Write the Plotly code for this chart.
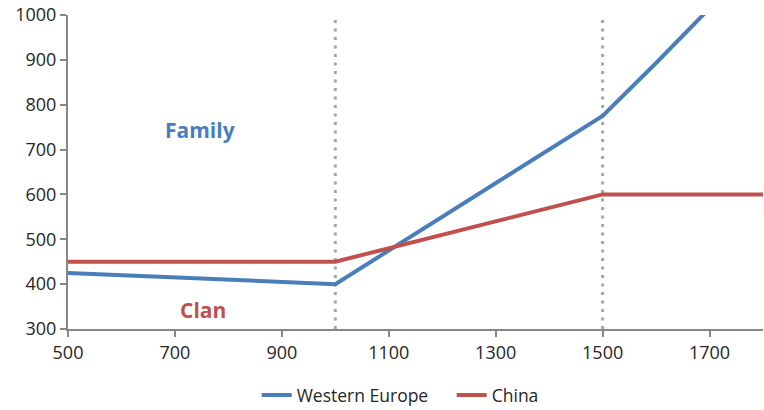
import plotly.graph_objects as go

# Year axis and series values
we_years = [500, 1000, 1500, 1600, 1700]
we_values = [425, 400, 775, 893, 1015]

china_years = [500, 1000, 1500, 1800]
china_values = [450, 450, 600, 600]

divider_years = [1000, 1500]

x_ticks = [500, 700, 900, 1100, 1300, 1500, 1700]
y_ticks = [300, 400, 500, 600, 700, 800, 900, 1000]

BLUE = "#4A7EBB"
RED = "#C0504D"
AXIS = "#878787"
TEXT = "#262626"

fig = go.Figure()

fig.add_trace(go.Scatter(
    x=we_years, y=we_values, mode="lines", name="Western Europe",
    line=dict(color=BLUE, width=4),
))
fig.add_trace(go.Scatter(
    x=china_years, y=china_values, mode="lines", name="China",
    line=dict(color=RED, width=4),
))

for yr in divider_years:
    fig.add_shape(
        type="line", xref="x", yref="y",
        x0=yr, x1=yr, y0=300, y1=1000,
        line=dict(color="#A6A6A6", width=3, dash="3px,5.5px"),
        layer="below",
    )

fig.add_annotation(x=747, y=744, text="<b>Family</b>", showarrow=False,
                   font=dict(color=BLUE, size=21, family="Open Sans"))
fig.add_annotation(x=753, y=343, text="<b>Clan</b>", showarrow=False,
                   font=dict(color=RED, size=21, family="Open Sans"))

fig.update_layout(
    width=764, height=410,
    margin=dict(l=68, r=1, t=15, b=81, autoexpand=False),
    paper_bgcolor="white", plot_bgcolor="white",
    font=dict(family="Open Sans", size=18, color=TEXT),
    showlegend=True,
    legend=dict(orientation="h", xref="container", x=0.336, xanchor="left",
                yref="paper", y=-0.153, yanchor="top",
                entrywidth=150, itemwidth=30,
                font=dict(size=17.5, color=TEXT)),
)

fig.update_xaxes(
    range=[500, 1800], tickvals=x_ticks, showgrid=False, zeroline=False,
    showline=True, linecolor=AXIS, linewidth=2,
    ticks="outside", ticklen=6, tickcolor=AXIS, tickwidth=1.5,
    automargin=False,
)
fig.update_yaxes(
    range=[300, 1000], tickvals=y_ticks, showgrid=False, zeroline=False,
    showline=True, linecolor=AXIS, linewidth=2,
    ticks="outside", ticklen=6, tickcolor=AXIS, tickwidth=1.5,
    automargin=False,
)

fig.write_html("out.html")
